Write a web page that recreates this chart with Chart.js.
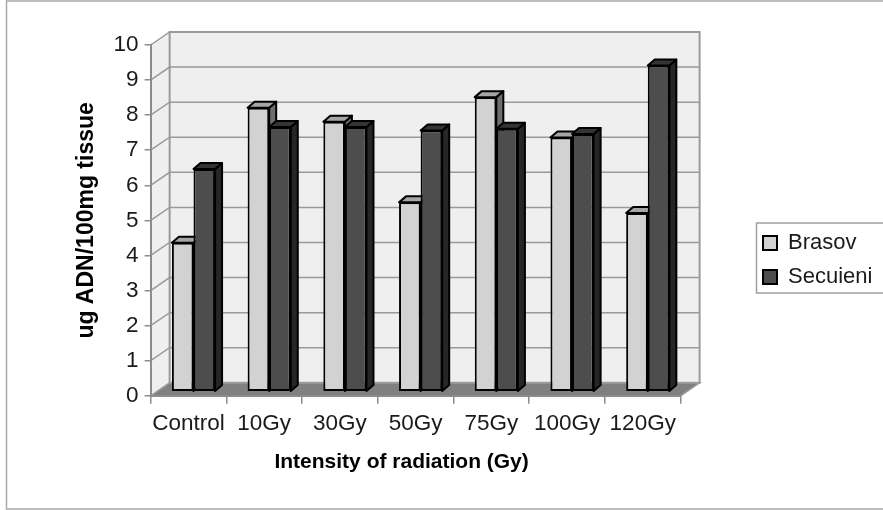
<!DOCTYPE html>
<html>
<head>
<meta charset="utf-8">
<title>ADN chart</title>
<script src="https://cdn.jsdelivr.net/npm/chart.js@4"></script>
<style>
  html, body { margin: 0; padding: 0; background: #fff; }
  canvas { display: block; }
</style>
</head>
<body>
<canvas id="graph" width="883" height="510"></canvas>
<script>
const categories = ['Control', '10Gy', '30Gy', '50Gy', '75Gy', '100Gy', '120Gy'];
const brasov = [4.25, 8.1, 7.7, 5.4, 8.4, 7.25, 5.1];
const secuieni = [6.35, 7.55, 7.55, 7.45, 7.5, 7.35, 9.3];

// depth of the back wall and of the bars, in pixels
const wallDx = 19, wallDy = -13;
const barShiftX = 5, barShiftY = -4, barDx = 7, barDy = -6;
const sideColors = ['#6e6e6e', '#262626'];
const topColors = ['#a6a6a6', '#343434'];

const fake3d = {
  id: 'fake3d',
  beforeDraw(chart) {
    const ctx = chart.ctx;
    const a = chart.chartArea;
    const y = chart.scales.y;
    ctx.save();
    // picture frame
    ctx.strokeStyle = '#a8a8a8';
    ctx.lineWidth = 1.5;
    ctx.strokeRect(6.5, 1, 890, 508);
    // walls
    ctx.fillStyle = '#efefef';
    ctx.fillRect(a.left + wallDx, a.top + wallDy, a.width, a.height);
    ctx.beginPath();
    ctx.moveTo(a.left, a.top);
    ctx.lineTo(a.left + wallDx, a.top + wallDy);
    ctx.lineTo(a.left + wallDx, a.bottom + wallDy);
    ctx.lineTo(a.left, a.bottom);
    ctx.closePath();
    ctx.fill();
    // floor
    ctx.fillStyle = '#808080';
    ctx.beginPath();
    ctx.moveTo(a.left, a.bottom);
    ctx.lineTo(a.left + wallDx, a.bottom + wallDy);
    ctx.lineTo(a.right + wallDx, a.bottom + wallDy);
    ctx.lineTo(a.right, a.bottom);
    ctx.closePath();
    ctx.fill();
    // grid lines on both walls
    ctx.strokeStyle = '#9a9a9a';
    ctx.lineWidth = 1.5;
    y.ticks.forEach((t) => {
      const py = y.getPixelForValue(t.value);
      ctx.beginPath();
      ctx.moveTo(a.left, py);
      ctx.lineTo(a.left + wallDx, py + wallDy);
      ctx.lineTo(a.right + wallDx, py + wallDy);
      if (t.value === 0) ctx.lineTo(a.right, py);
      ctx.stroke();
    });
    // wall outline
    ctx.lineWidth = 2;
    ctx.strokeRect(a.left + wallDx, a.top + wallDy, a.width, a.height);
    ctx.restore();
  },
  // left series has to go first so its neighbour covers its side face
  beforeDatasetsDraw(chart) {
    const ctx = chart.ctx;
    [0, 1].forEach((index) => {
      const meta = chart.getDatasetMeta(index);
      ctx.save();
      ctx.translate(barShiftX, barShiftY);
      meta.controller.draw();
      ctx.strokeStyle = '#000';
      ctx.lineWidth = 2;
      ctx.lineJoin = 'round';
      meta.data.forEach((bar) => {
        const l = bar.x - bar.width / 2;
        const r = bar.x + bar.width / 2;
        // side
        ctx.fillStyle = sideColors[index];
        ctx.beginPath();
        ctx.moveTo(r, bar.y);
        ctx.lineTo(r + barDx, bar.y + barDy);
        ctx.lineTo(r + barDx, bar.base + barDy);
        ctx.lineTo(r, bar.base);
        ctx.closePath();
        ctx.fill();
        ctx.stroke();
        // top
        ctx.fillStyle = topColors[index];
        ctx.beginPath();
        ctx.moveTo(l, bar.y);
        ctx.lineTo(l + barDx, bar.y + barDy);
        ctx.lineTo(r + barDx, bar.y + barDy);
        ctx.lineTo(r, bar.y);
        ctx.closePath();
        ctx.fill();
        ctx.stroke();
      });
      ctx.restore();
    });
    return false;
  },
  afterLayout(chart) {
    // legend sits on its own, right of the plot
    const lg = chart.legend;
    const w = lg.width;
    lg.left = 751;
    lg.right = 751 + w;
    lg.top = 220;
    lg.bottom = 330;
    // x title is left of the plot centre in the original
    const x = chart.scales.x;
    if (!x.titleShifted) {
      const drawTitle = x.drawTitle;
      x.drawTitle = function () {
        this.ctx.save();
        this.ctx.translate(-14, 0);
        drawTitle.call(this);
        this.ctx.restore();
      };
      x.titleShifted = true;
    }
  },
  afterDraw(chart) {
    const ctx = chart.ctx;
    ctx.save();
    ctx.strokeStyle = '#a0a0a0';
    ctx.lineWidth = 1.5;
    ctx.strokeRect(756.5, 223, 130, 70);
    ctx.restore();
  },
};

new Chart(document.getElementById('graph').getContext('2d'), {
  type: 'bar',
  data: {
    labels: categories,
    datasets: [
      { label: 'Brasov', data: brasov, backgroundColor: '#d2d2d2' },
      { label: 'Secuieni', data: secuieni, backgroundColor: '#4d4d4d' },
    ].map((d) => ({
      ...d,
      borderColor: '#000',
      borderWidth: 2,
      borderSkipped: false,
      clip: false,
      categoryPercentage: 0.57,
      barPercentage: 1,
    })),
  },
  options: {
    responsive: false,
    animation: false,
    layout: { padding: { left: 73, right: 71, top: 45, bottom: 35 } },
    plugins: {
      tooltip: { enabled: false },
      legend: {
        position: 'right',
        align: 'start',
        labels: {
          color: '#1a1a1a',
          font: { family: 'Liberation Sans', size: 22 },
          boxWidth: 14,
          boxHeight: 14,
          padding: 12,
        },
      },
    },
    scales: {
      x: {
        title: {
          display: true,
          text: 'Intensity of radiation (Gy)',
          color: '#000',
          font: { family: 'Liberation Sans', size: 21, weight: 'bold' },
          padding: { top: 7, bottom: 0 },
        },
        ticks: {
          color: '#1a1a1a',
          font: { family: 'Liberation Sans', size: 22.5 },
          maxRotation: 0,
          autoSkip: false,
          padding: 6,
        },
        grid: { drawOnChartArea: false, color: '#8c8c8c', lineWidth: 1.5, tickLength: 8 },
        border: { color: '#8c8c8c', width: 2 },
      },
      y: {
        min: 0,
        max: 10,
        title: {
          display: true,
          text: 'ug ADN/100mg tissue',
          color: '#000',
          font: { family: 'Liberation Sans', size: 23, weight: 'bold' },
          padding: { top: 0, bottom: 7 },
        },
        ticks: {
          stepSize: 1,
          color: '#1a1a1a',
          font: { family: 'Liberation Sans', size: 22.5 },
          padding: 6,
        },
        grid: { drawOnChartArea: false, color: '#8c8c8c', lineWidth: 1.5, tickLength: 6 },
        border: { color: '#8c8c8c', width: 2 },
      },
    },
  },
  plugins: [fake3d],
});
</script>
</body>
</html>
